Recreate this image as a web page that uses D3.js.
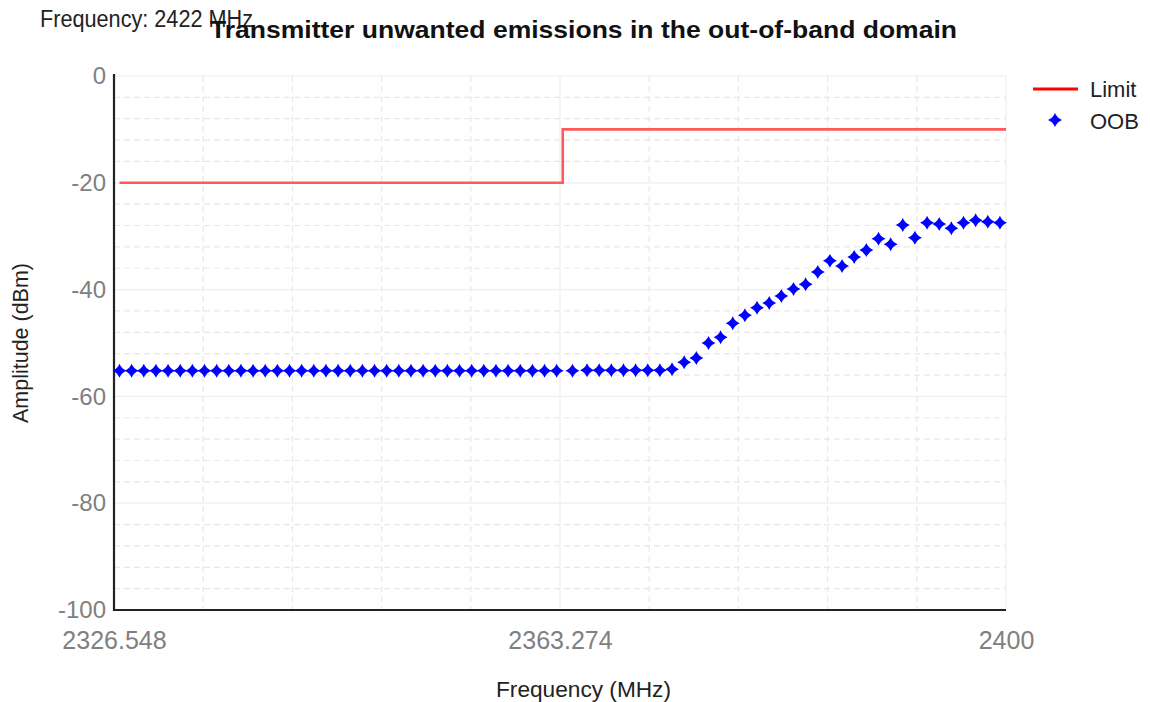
<!DOCTYPE html>
<html>
<head>
<meta charset="utf-8">
<script src="https://cdn.jsdelivr.net/npm/d3@7"></script>
<style>
  html, body { margin: 0; padding: 0; background: #ffffff; }
  svg { display: block; font-family: "Liberation Sans", Arial, sans-serif; }
</style>
</head>
<body>
<svg id="chart" width="1150" height="702"></svg>
<script>
// ---- data ----
const titleText = "Transmitter unwanted emissions in the out-of-band domain";
const subtitleText = "Frequency: 2422 MHz";
const xAxisTitle = "Frequency (MHz)";
const yAxisTitle = "Amplitude (dBm)";
const xDomain = [2326.548, 2400];
const yDomain = [-100, 0];
const xTickValues = [2326.548, 2363.274, 2400];
const xTickLabels = ["2326.548", "2363.274", "2400"];
const yTickValues = [0, -20, -40, -60, -80, -100];
const yTickLabels = ["0", "-20", "-40", "-60", "-80", "-100"];

const limitFreq = [2327, 2363.5, 2363.5, 2400];
const limitAmp  = [-20, -20, -10, -10];

const oobFreq = [
  2327, 2328, 2329, 2330, 2331, 2332, 2333, 2334, 2335, 2336,
  2337, 2338, 2339, 2340, 2341, 2342, 2343, 2344, 2345, 2346,
  2347, 2348, 2349, 2350, 2351, 2352, 2353, 2354, 2355, 2356,
  2357, 2358, 2359, 2360, 2361, 2362, 2363,
  2364.3,
  2365.5, 2366.5, 2367.5, 2368.5, 2369.5, 2370.5, 2371.5, 2372.5,
  2373.5, 2374.5, 2375.5, 2376.5, 2377.5, 2378.5, 2379.5, 2380.5,
  2381.5, 2382.5, 2383.5, 2384.5, 2385.5, 2386.5, 2387.5, 2388.5,
  2389.5, 2390.5, 2391.5, 2392.5, 2393.5, 2394.5, 2395.5, 2396.5,
  2397.5, 2398.5, 2399.5
];
const oobAmp = [
  -55.2, -55.2, -55.2, -55.2, -55.2, -55.2, -55.2, -55.2, -55.2, -55.2,
  -55.2, -55.2, -55.2, -55.2, -55.2, -55.2, -55.2, -55.2, -55.2, -55.2,
  -55.2, -55.2, -55.2, -55.2, -55.2, -55.2, -55.2, -55.2, -55.2, -55.2,
  -55.2, -55.2, -55.2, -55.2, -55.2, -55.2, -55.2,
  -55.2,
  -55.1, -55.1, -55.1, -55.1, -55.1, -55.1, -55.1, -54.9,
  -53.6, -52.8, -50.0, -48.9, -46.3, -44.8, -43.4, -42.5,
  -41.2, -39.9, -39.0, -36.7, -34.6, -35.6, -33.9, -32.6,
  -30.5, -31.5, -27.9, -30.3, -27.5, -27.7, -28.5, -27.5,
  -27.0, -27.3, -27.5
];

const seriesNames = ["Limit", "OOB"];

// ---- layout ----
const svg = d3.select("#chart");
const plot = { left: 114, right: 1006, top: 76, bottom: 610 };

const x = d3.scaleLinear().domain(xDomain).range([plot.left, plot.right]);
const y = d3.scaleLinear().domain(yDomain).range([plot.bottom, plot.top]);

// ---- grid ----
const grid = svg.append("g");
const xStep = (xDomain[1] - xDomain[0]) / 10;
const xGrid = d3.range(11).map(i => xDomain[0] + i * xStep);
xGrid.forEach((v, i) => {
  const major = (i % 5 === 0);
  grid.append("line")
    .attr("x1", x(v)).attr("x2", x(v))
    .attr("y1", plot.top).attr("y2", plot.bottom)
    .attr("stroke", major ? "#eeeeee" : "#e8e8e8")
    .attr("stroke-width", 1.2)
    .attr("stroke-dasharray", major ? null : "6,4");
});
const yGrid = d3.range(-100, 1, 4);
yGrid.forEach(v => {
  const major = (v % 20 === 0);
  grid.append("line")
    .attr("x1", plot.left).attr("x2", plot.right)
    .attr("y1", y(v)).attr("y2", y(v))
    .attr("stroke", major ? "#eeeeee" : "#e8e8e8")
    .attr("stroke-width", 1.2)
    .attr("stroke-dasharray", major ? null : "6,4");
});

// ---- axes ----
const xAxis = d3.axisBottom(x).tickValues(xTickValues)
  .tickFormat((d, i) => xTickLabels[i]).tickSize(0).tickPadding(21);
const yAxis = d3.axisLeft(y).tickValues(yTickValues)
  .tickFormat((d, i) => yTickLabels[i]).tickSize(0).tickPadding(8);

const gx = svg.append("g").attr("transform", `translate(0,${plot.bottom})`).call(xAxis);
const gy = svg.append("g").attr("transform", `translate(${plot.left},0)`).call(yAxis);
[gx, gy].forEach(g => {
  g.select(".domain").remove();
  g.selectAll("text")
    .attr("fill", "#808080")
    .style("font-family", '"Liberation Sans", Arial, sans-serif');
});
gx.selectAll("text").attr("dy", "0.71em").style("font-size", "25px");
gy.selectAll("text").style("font-size", "24px");

// axis lines
svg.append("line")
  .attr("x1", plot.left).attr("x2", plot.left)
  .attr("y1", plot.top - 2).attr("y2", plot.bottom + 1)
  .attr("stroke", "#222").attr("stroke-width", 2.2);
svg.append("line")
  .attr("x1", plot.left - 1).attr("x2", plot.right)
  .attr("y1", plot.bottom).attr("y2", plot.bottom)
  .attr("stroke", "#222").attr("stroke-width", 2.2);

// ---- limit line ----
const limitData = limitFreq.map((f, i) => [f, limitAmp[i]]);
svg.append("path")
  .datum(limitData)
  .attr("fill", "none")
  .attr("stroke", "#ff5a5a")
  .attr("stroke-width", 2.6)
  .attr("d", d3.line().x(d => x(d[0])).y(d => y(d[1])));

// ---- OOB markers ----
const starPath = "M0,-7 Q2,-2 7,0 Q2,2 0,7 Q-2,2 -7,0 Q-2,-2 0,-7Z";
svg.append("g").selectAll("path")
  .data(oobFreq.map((f, i) => [f, oobAmp[i]]))
  .join("path")
  .attr("d", starPath)
  .attr("transform", d => `translate(${x(d[0])},${y(d[1])})`)
  .attr("fill", "#0000ff");

// ---- titles ----
svg.append("text")
  .attr("x", 40).attr("y", 27)
  .attr("textLength", 213).attr("lengthAdjust", "spacingAndGlyphs")
  .style("font-size", "23px").attr("fill", "#222")
  .text(subtitleText);

svg.append("text")
  .attr("x", 210).attr("y", 38)
  .attr("textLength", 747).attr("lengthAdjust", "spacingAndGlyphs")
  .style("font-size", "24px").style("font-weight", "bold").attr("fill", "#111")
  .text(titleText);

svg.append("text")
  .attr("x", 496).attr("y", 697)
  .attr("textLength", 175).attr("lengthAdjust", "spacingAndGlyphs")
  .style("font-size", "22px").attr("fill", "#222")
  .text(xAxisTitle);

svg.append("text")
  .attr("transform", "translate(28,423) rotate(-90)")
  .attr("textLength", 160).attr("lengthAdjust", "spacingAndGlyphs")
  .style("font-size", "22px").attr("fill", "#222")
  .text(yAxisTitle);

// ---- legend ----
const legend = svg.append("g");
legend.append("line")
  .attr("x1", 1033).attr("x2", 1078).attr("y1", 89).attr("y2", 89)
  .attr("stroke", "#ff0000").attr("stroke-width", 3);
legend.append("text")
  .attr("x", 1090).attr("y", 97)
  .style("font-size", "22px").attr("fill", "#222")
  .text(seriesNames[0]);
legend.append("path")
  .attr("d", starPath)
  .attr("transform", "translate(1055,120)")
  .attr("fill", "#0000ff");
legend.append("text")
  .attr("x", 1090).attr("y", 129)
  .style("font-size", "22px").attr("fill", "#222")
  .text(seriesNames[1]);
</script>
</body>
</html>
